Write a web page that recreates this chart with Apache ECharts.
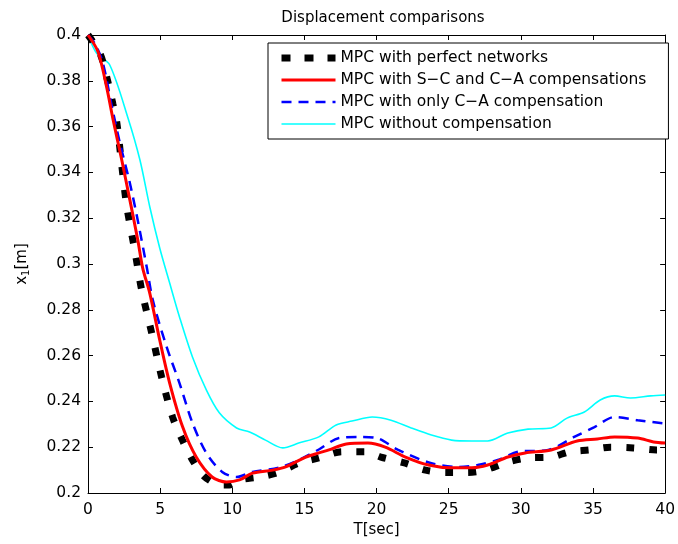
<!DOCTYPE html>
<html><head><meta charset="utf-8">
<script src="https://cdn.jsdelivr.net/npm/echarts@6/dist/echarts.min.js"></script>
<style>html,body{margin:0;padding:0;background:#fff}#c{width:678px;height:544px}</style>
</head><body><div id="c"></div>
<script>
const seriesNames = ['MPC with perfect networks','MPC with S\u2212C and C\u2212A compensations','MPC with only C\u2212A compensation','MPC without compensation'];
const xTicks = [0,5,10,15,20,25,30,35,40];
const yTicks = [0.2,0.22,0.24,0.26,0.28,0.3,0.32,0.34,0.36,0.38,0.4];

const tPerfect = [0,0.83,1.38,1.72,2.0,2.34,2.69,3.24,3.72,4.41,5.1,5.86,6.55,7.24,7.93,8.5,9.1,9.8,10.5,11.9,13.2,14.6,16.0,17.6,19.2,20.3,22.0,23.4,24.8,26.3,27.5,29.1,30.5,32.1,33.4,34.8,36.2,37.8,39.4,40];
const vPerfect = [0.4,0.392,0.3795,0.370,0.3616,0.343,0.325,0.306,0.2886,0.270,0.2507,0.2332,0.223,0.2144,0.208,0.2052,0.2035,0.2035,0.2057,0.207,0.209,0.213,0.2153,0.218,0.218,0.2157,0.213,0.210,0.209,0.209,0.210,0.2135,0.2153,0.2157,0.218,0.2188,0.220,0.2197,0.2188,0.2188];

const tFull = [0,0.7,1.3,1.74,2.34,2.9,3.45,3.8,4.28,4.97,5.66,6.55,7.5,8.6,9.6,10.5,11.4,12.8,13.7,15.1,16.0,16.7,17.9,19.4,20.6,22.0,23.6,25.2,26.6,27.7,29.1,30.3,32.1,33.9,35.3,36.5,38.1,39.2,40];
const vFull = [0.4,0.3926,0.377,0.363,0.3454,0.328,0.3105,0.298,0.2873,0.2668,0.248,0.229,0.2157,0.207,0.2048,0.2057,0.2087,0.210,0.2114,0.2157,0.2175,0.2188,0.2214,0.2218,0.220,0.2157,0.2122,0.211,0.211,0.2122,0.2157,0.2175,0.2188,0.2227,0.2236,0.2245,0.224,0.2223,0.2218];

const tCA = [0,0.5,1.03,1.66,2.21,2.9,3.45,4.07,4.5,5.45,6.34,7.24,8.2,9.3,10.3,11.4,13.2,14.6,16.0,17.4,18.8,20.0,21.5,23.8,25.7,27.0,28.4,29.8,31.9,33.7,35.1,36.5,38.1,40];
const vCA = [0.4,0.396,0.3878,0.3686,0.3528,0.3354,0.319,0.2987,0.284,0.2638,0.248,0.2306,0.2175,0.2092,0.207,0.2092,0.211,0.2144,0.219,0.224,0.2245,0.224,0.2188,0.213,0.2114,0.2122,0.2144,0.218,0.2188,0.2245,0.2288,0.2332,0.2318,0.2303];

const tNone = [0,0.6,1.5,2.76,3.6,4.28,4.97,5.66,6.34,7.24,8.2,9.1,10.3,11.2,12.3,13.5,14.6,16.0,17.2,18.3,19.7,21.0,22.4,23.8,25.2,26.6,27.7,29.1,30.5,32.1,33.2,34.4,35.5,36.5,37.6,39.0,40];
const vNone = [0.4,0.392,0.387,0.364,0.3454,0.325,0.307,0.2917,0.2769,0.2594,0.245,0.235,0.2284,0.2266,0.2231,0.2197,0.2218,0.2245,0.2297,0.2314,0.2332,0.2318,0.2284,0.2253,0.2231,0.2227,0.2227,0.2262,0.2279,0.2284,0.2327,0.2354,0.2406,0.2424,0.2415,0.2424,0.2428];

const zip = (t, v) => t.map((x, i) => [x, v[i]]);
const FONT = '"DejaVu Sans", sans-serif';

const lineStyles = [
  {color: '#000', width: 7, type: [8, 15], cap: 'butt'},
  {color: '#ff0000', width: 3},
  {color: '#0000ff', width: 2.5, type: [10, 7]},
  {color: '#00ffff', width: 1.6}
];

const chart = echarts.init(document.getElementById('c'), null, {renderer: 'canvas'});
const axisCommon = {
  axisLine: {show: true, onZero: false, lineStyle: {color: '#000', width: 1}},
  axisTick: {show: true, inside: true, length: 5, lineStyle: {color: '#000'}},
  splitLine: {show: false}
};
chart.setOption({
  animation: false,
  backgroundColor: '#fff',
  title: {text: 'Displacement comparisons', left: 378, textAlign: 'center', top: 6,
    textStyle: {fontFamily: FONT, fontSize: 15, fontWeight: 'normal', color: '#000'}},
  grid: {left: 88, right: 10, top: 35, bottom: 51, containLabel: false},
  legend: {
    orient: 'vertical', left: 268, top: 43,
    padding: [7, 22, 7, 10], itemGap: 6, itemWidth: 54, itemHeight: 16,
    borderColor: '#000', borderWidth: 1, backgroundColor: '#fff', borderRadius: 0,
    itemStyle: {opacity: 0},
    textStyle: {fontFamily: FONT, fontSize: 15.5, color: '#000'},
    data: seriesNames.map((n, i) => ({name: n, lineStyle: Object.assign({}, lineStyles[i], i === 0 ? {type: [9, 14]} : {})}))
  },
  xAxis: [
    Object.assign({type: 'value', min: xTicks[0], max: xTicks[xTicks.length-1], interval: 5, position: 'bottom',
      name: 'T[sec]', nameLocation: 'middle', nameGap: 28,
      nameTextStyle: {fontFamily: FONT, fontSize: 15, color: '#000'},
      axisLabel: {fontFamily: FONT, fontSize: 15.5, color: '#000', margin: 9}}, axisCommon),
    Object.assign({type: 'value', min: 0, max: 40, interval: 5, position: 'top', axisLabel: {show: false}}, axisCommon)
  ],
  yAxis: [
    Object.assign({type: 'value', min: yTicks[0], max: yTicks[yTicks.length-1], interval: 0.02, position: 'left',
      name: 'x{s|1}[m]', nameLocation: 'middle', nameGap: 57, nameRotate: 90,
      nameTextStyle: {fontFamily: FONT, fontSize: 15, color: '#000',
        rich: {s: {fontFamily: FONT, fontSize: 10, color: '#000', verticalAlign: 'bottom', padding: [7,0,0,0]}}},
      axisLabel: {fontFamily: FONT, fontSize: 15.5, color: '#000', margin: 7,
        formatter: v => String(+v.toFixed(2))}}, axisCommon),
    Object.assign({type: 'value', min: 0.2, max: 0.4, interval: 0.02, position: 'right', axisLabel: {show: false}}, axisCommon)
  ],
  series: [
    {name: seriesNames[0], type: 'line', data: zip(tPerfect, vPerfect), showSymbol: false, symbol: 'none', smooth: 0.3,
      lineStyle: lineStyles[0], itemStyle: {color: '#000'}, z: 2},
    {name: seriesNames[1], type: 'line', data: zip(tFull, vFull), showSymbol: false, symbol: 'none', smooth: 0.3,
      lineStyle: lineStyles[1], itemStyle: {color: '#ff0000'}, z: 4},
    {name: seriesNames[2], type: 'line', data: zip(tCA, vCA), showSymbol: false, symbol: 'none', smooth: 0.3,
      lineStyle: lineStyles[2], itemStyle: {color: '#0000ff'}, z: 3},
    {name: seriesNames[3], type: 'line', data: zip(tNone, vNone), showSymbol: false, symbol: 'none', smooth: 0.3,
      lineStyle: lineStyles[3], itemStyle: {color: '#00ffff'}, z: 1}
  ]
});
</script></body></html>
